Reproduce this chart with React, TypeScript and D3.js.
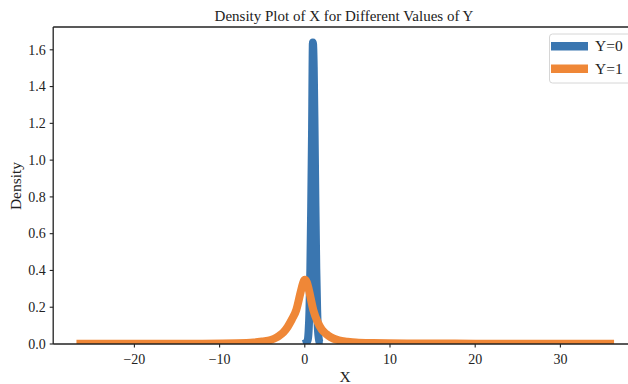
import * as d3 from "d3";
import { useEffect } from "react";

// values (kde curves)
const y0X = [-0.2, 0.0, 0.15, 0.35, 0.45, 0.55, 0.65, 0.75, 0.85, 0.95, 1.05, 1.15, 1.25, 1.35, 1.45, 1.55, 1.75, 1.95, 2.1];
const y0D = [0.0, 0.003, 0.006, 0.023, 0.072, 0.187, 0.409, 0.751, 1.159, 1.64, 1.504, 1.159, 0.751, 0.409, 0.187, 0.072, 0.006, 0.001, 0.0];

const y1X = [-26.8, -20, -12, -8, -6, -5, -4, -3.3, -3, -2.5, -2, -1.5, -1, -0.5, -0.25, 0, 0.25, 0.5, 1, 1.5, 2, 2.5, 3, 4, 5, 6, 8, 12, 20, 30, 36.3];
const y1D = [0.001, 0.001, 0.002, 0.004, 0.008, 0.014, 0.022, 0.036, 0.045, 0.064, 0.094, 0.135, 0.185, 0.28, 0.325, 0.35, 0.335, 0.29, 0.185, 0.12, 0.078, 0.055, 0.038, 0.02, 0.013, 0.008, 0.005, 0.003, 0.002, 0.001, 0.001];

const xTicks = [-20, -10, 0, 10, 20, 30];
const yTicks = [0, 0.2, 0.4, 0.6, 0.8, 1.0, 1.2, 1.4, 1.6];
const labels = ["Y=0", "Y=1"];
const colors = ["#3a76b0", "#ef8737"];

const width = 628;
const height = 384;
const font = "'Liberation Serif', 'DejaVu Serif', serif";
const ink = "#222";

export default function App() {
  const margin = { top: 27, left: 53.2, bottom: 40 };
  const xScale = d3.scaleLinear().domain([-29.53, 39.4]).range([margin.left, margin.left + 68.93 * 8.52]);
  const yScale = d3.scaleLinear().domain([0, 1.724]).range([height - margin.bottom, margin.top]);

  useEffect(() => {
    document.body.style.margin = "0";
  }, []);

  const line = d3
    .line<[number, number]>()
    .x((d) => xScale(d[0]))
    .y((d) => yScale(d[1]))
    .curve(d3.curveMonotoneX);

  const series = [
    d3.zip(y0X, y0D) as [number, number][],
    d3.zip(y1X, y1D) as [number, number][],
  ];

  const x0 = margin.left;
  const y0 = height - margin.bottom;
  const fmtX = (d: number) => (d < 0 ? "\u2212" + Math.abs(d) : String(d));
  const fmtY = d3.format(".1f");

  return (
    <svg width={width} height={height} style={{ position: "absolute", left: 0, top: 0, background: "#fff" }}>
      <defs>
        <clipPath id="plot">
          <rect x={x0} y={margin.top} width={width} height={y0 - margin.top} />
        </clipPath>
      </defs>

      <g clipPath="url(#plot)">
        {series.map((s, i) => (
          <path key={i} d={line(s) || ""} fill="none" stroke={colors[i]} strokeWidth={8} strokeLinejoin="round" />
        ))}
      </g>

      {/* spines */}
      <line x1={x0} x2={x0} y1={margin.top} y2={y0} stroke={ink} strokeWidth={1.3} />
      <line x1={x0} x2={width} y1={y0} y2={y0} stroke={ink} strokeWidth={1.3} />
      <line x1={x0} x2={width} y1={margin.top} y2={margin.top} stroke={ink} strokeWidth={1.3} />

      {/* x ticks */}
      {xTicks.map((t) => (
        <g key={t} transform={`translate(${xScale(t)}, ${y0})`}>
          <line y2={3.5} stroke={ink} strokeWidth={1.1} />
          <text y={19.5} textAnchor="middle" fontFamily={font} fontSize={14} fill={ink}>
            {fmtX(t)}
          </text>
        </g>
      ))}

      {/* y ticks */}
      {yTicks.map((t) => (
        <g key={t} transform={`translate(${x0}, ${yScale(t)})`}>
          <line x2={-3.5} stroke={ink} strokeWidth={1.1} />
          <text x={-7.5} y={4.8} textAnchor="end" fontFamily={font} fontSize={14} fill={ink}>
            {fmtY(t)}
          </text>
        </g>
      ))}

      <text x={344} y={20.5} textAnchor="middle" fontFamily={font} fontSize={15} fill={ink}>
        Density Plot of X for Different Values of Y
      </text>
      <text x={345} y={382} textAnchor="middle" fontFamily={font} fontSize={15.5} fill={ink}>
        X
      </text>
      <text transform={`translate(21, 186) rotate(-90)`} textAnchor="middle" fontFamily={font} fontSize={15.5} fill={ink}>
        Density
      </text>

      {/* legend */}
      <rect x={549.5} y={34} width={100} height={49} rx={3} fill="#fff" fillOpacity={0.8} stroke="#d6d6d6" strokeWidth={1} />
      {labels.map((l, i) => (
        <g key={l} transform={`translate(551, ${46.3 + i * 22.4})`}>
          <line x1={0} x2={37} y1={0} y2={0} stroke={colors[i]} strokeWidth={8.5} />
          <text x={44} y={5} fontFamily={font} fontSize={15.5} fill={ink}>
            {l}
          </text>
        </g>
      ))}
    </svg>
  );
}
